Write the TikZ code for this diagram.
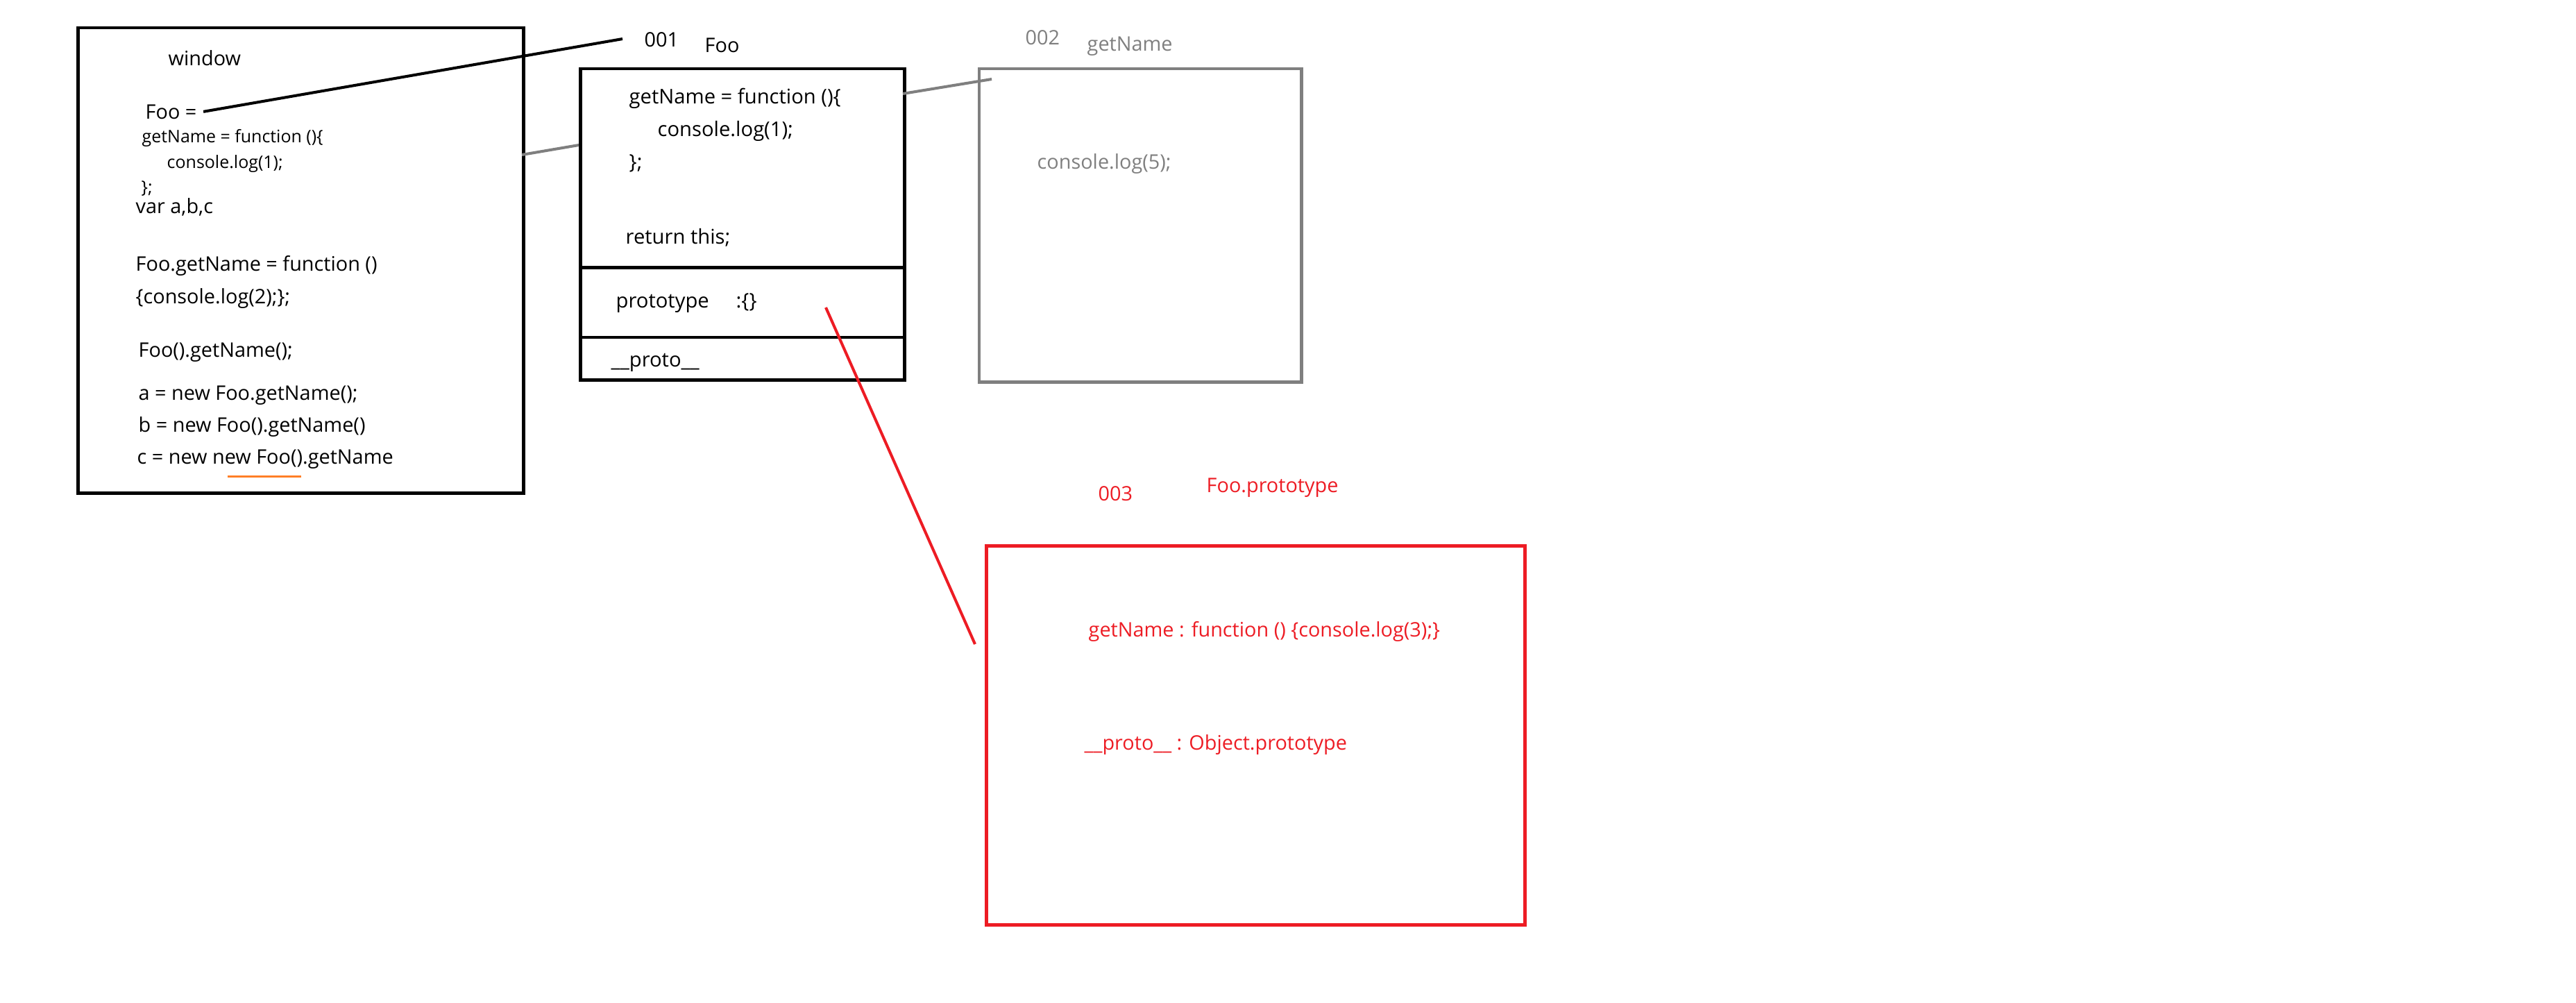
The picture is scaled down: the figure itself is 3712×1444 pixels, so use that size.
\documentclass[tikz,border=0pt]{standalone}
\usepackage{fontspec}
\setmainfont{Open Sans}
\usetikzlibrary{positioning}

\definecolor{paintgray}{RGB}{127,127,127}
\definecolor{paintred}{RGB}{237,28,36}
\definecolor{paintorange}{RGB}{255,127,39}

\tikzset{
  membox/.style={draw, line width=1.4pt, inner sep=0pt, anchor=north west},
  code/.style={anchor=base west, inner sep=0pt, font=\fontsize{8.2}{10}\selectfont},
  smallcode/.style={code, font=\fontsize{7.1}{8.5}\selectfont},
  boxcode/.style={code, font=\fontsize{8.3}{10}\selectfont},
  link/.style={line width=1.15pt},
}

\begin{document}
\begin{tikzpicture}[x=0.01cm, y=-0.01cm]
\useasboundingbox (0,0) rectangle (3712,1444);

% window scope
\node[membox, minimum width=6.42cm, minimum height=6.70cm] (window) at (110,37.5) {};
\node[code] (winlbl) at (242,94) {window};
\node[code] (fooeq) at (209,171) {Foo =};
\node[smallcode] (gnA) at (204,205) {getName = function ()\{};
\node[smallcode] (logA) at (240,242) {console.log(1);};
\node[smallcode] (endA) at (203,278) {\};};
\node[code] (vars) at (195,307) {var a,b,c};
\node[code] (fgnA) at (195,390) {Foo.getName = function ()};
\node[code] (fgnB) at (195,437) {\{console.log(2);\};};
\node[code] (call) at (199,514) {Foo().getName();};
\node[code] (lineA) at (199,576) {a = new Foo.getName();};
\node[code] (lineB) at (199,622) {b = new Foo().getName()};
\node[code] (lineC) at (197,668) {c = new new Foo().getName};
\draw[paintorange, line width=0.85pt] (328,686) -- (434,686);

% 001 Foo
\node[membox, minimum width=4.67cm, minimum height=4.48cm] (foo) at (834,96.5) {};
\node[code] (addrA) at (928,67) {001};
\node[code] (fooname) at (1015,75) {Foo};
\node[boxcode] (gnB) at (906,149) {getName = function ()\{};
\node[boxcode] (logB) at (947,196) {console.log(1);};
\node[boxcode] (endB) at (906,243) {\};};
\node[boxcode] (ret) at (901,351) {return this;};
\draw[link] (834,385.5) -- (1301,385.5);
\node[boxcode] (proto) at (887,443) {prototype};
\node[boxcode] (protoval) at (1060,443) {:\{\}};
\draw[link] (834,486) -- (1301,486);
\node[boxcode] (dunder) at (880,528) {\_\_proto\_\_};

% 002 getName
\node[membox, draw=paintgray, minimum width=4.64cm, minimum height=4.51cm] (getname) at (1408.5,96.5) {};
\node[code, text=paintgray] (addrB) at (1477,64) {002};
\node[code, text=paintgray] (gnname) at (1566,73) {getName};
\node[code, text=paintgray] (logC) at (1494,243) {console.log(5);};

% 003 Foo.prototype
\node[membox, draw=paintred, minimum width=7.76cm, minimum height=5.46cm] (fooproto) at (1419,784) {};
\node[code, text=paintred] (addrC) at (1582,721) {003};
\node[code, text=paintred] (protoname) at (1738,709) {Foo.prototype};
\node[code, text=paintred] (gnC) at (1568,917) {getName : function () \{console.log(3);\}};
\node[code, text=paintred] (objproto) at (1562,1080) {\_\_proto\_\_ : Object.prototype};

% links
\coordinate (toaddrA) at (897,56);
\coordinate (winedge) at (752,223);
\coordinate (fooedge) at (834,209);
\coordinate (fooright) at (1301,135);
\coordinate (ingetname) at (1429,114);
\coordinate (inproto) at (1190,443);
\coordinate (toproto) at (1405,928);
\draw[link] ([xshift=0.09cm]fooeq.east) -- (toaddrA);
\draw[link, paintgray] (winedge) -- (fooedge);
\draw[link, paintgray] (fooright) -- (ingetname);
\draw[link, paintred] (inproto) -- (toproto);
\end{tikzpicture}
\end{document}
